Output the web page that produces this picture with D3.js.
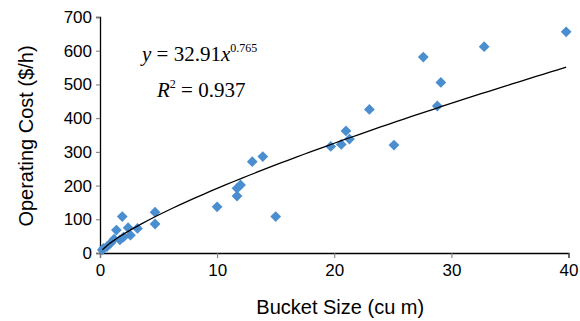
<!DOCTYPE html>
<html>
<head>
<meta charset="utf-8">
<script src="https://cdn.jsdelivr.net/npm/d3@7"></script>
<style>
  body { margin: 0; background: #fff; }
  svg { display: block; }
</style>
</head>
<body>
<svg id="svgx"></svg>
<script>
// bucket size (cu m) vs operating cost ($/h)
var bucketSize = [0.2, 0.3, 0.6, 0.9, 1.2, 1.7, 2.0, 2.6, 2.4, 3.2, 1.4, 1.9, 4.7, 4.7,
                  10.0, 11.7, 11.7, 12.0, 13.0, 13.9, 15.0,
                  19.7, 20.6, 21.3, 21.0, 23.0, 25.1, 27.6, 28.8, 29.1, 32.8, 39.8];
var opCost     = [9, 14, 19, 29, 41, 39, 47, 53, 75, 73, 68, 108, 121, 86,
                  137, 169, 192, 202, 271, 286, 108,
                  316, 322, 338, 362, 426, 320, 581, 436, 506, 612, 656];
var xTicks = [0, 10, 20, 30, 40];
var yTicks = [0, 100, 200, 300, 400, 500, 600, 700];
var coefA = 32.91, coefB = 0.765, rSq = 0.937;

var W = 580, H = 321;
var margin = {top: 17, right: 11.5, bottom: 68, left: 100};

var svg = d3.select('#svgx').attr('width', W).attr('height', H);

var x = d3.scaleLinear().domain([0, 40]).range([margin.left, W - margin.right]);
var y = d3.scaleLinear().domain([0, 700]).range([H - margin.bottom, margin.top]);

var tickFont = 'Liberation Sans, Arial, sans-serif';

// y axis
var yAxisG = svg.append('g')
  .attr('transform', `translate(${margin.left},0)`)
  .call(d3.axisLeft(y).tickValues(yTicks).tickSize(4).tickPadding(4))
yAxisG.select('.domain').attr('stroke', '#000').attr('stroke-width', 1.3)
yAxisG.selectAll('.tick line').attr('stroke', '#777')
yAxisG.selectAll('.tick text').style('font-family', tickFont).style('font-size', '17px').attr('fill', '#000')

// x axis
var xAxisG = svg.append('g')
  .attr('transform', `translate(0,${H - margin.bottom})`)
  .call(d3.axisBottom(x).tickValues(xTicks).tickSize(5).tickPadding(6))
xAxisG.select('.domain').attr('stroke', '#000').attr('stroke-width', 1.3)
xAxisG.selectAll('.tick line').attr('stroke', '#777')
xAxisG.selectAll('.tick text').style('font-family', tickFont).style('font-size', '17px').attr('fill', '#000')

// data points
var pts = bucketSize.map((d, i) => [d, opCost[i]]);
svg.append('g').selectAll('path.pt')
  .data(pts)
  .enter()
  .append('path')
  .attr('class', 'pt')
  .attr('d', d3.symbol().type(d3.symbolSquare).size(58))
  .attr('transform', d => `translate(${x(d[0])},${y(d[1])}) rotate(45)`)
  .attr('fill', '#4a8ed0');

// power trend line
var xmin = d3.min(bucketSize), xmax = d3.max(bucketSize);
var trend = d3.range(0, 61).map(i => {
  var xv = xmin + (xmax - xmin) * i / 60;
  return [xv, coefA * Math.pow(xv, coefB)];
});
svg.append('path')
  .datum(trend)
  .attr('d', d3.line().x(d => x(d[0])).y(d => y(d[1])))
  .attr('fill', 'none')
  .attr('stroke', '#000')
  .attr('stroke-width', 1.3);

// equation text
var serif = 'Liberation Serif, Times New Roman, serif';
var eq = svg.append('text')
  .attr('x', 142).attr('y', 61)
  .style('font-family', serif).style('font-size', '21px');
eq.append('tspan').style('font-style', 'italic').text('y');
eq.append('tspan').text(' = ' + coefA.toFixed(2));
eq.append('tspan').style('font-style', 'italic').text('x');
eq.append('tspan').attr('dy', -9).style('font-size', '12px').text(coefB.toFixed(3));

var r2 = svg.append('text')
  .attr('x', 157).attr('y', 97)
  .style('font-family', serif).style('font-size', '21px');
r2.append('tspan').style('font-style', 'italic').text('R');
r2.append('tspan').attr('dy', -9).style('font-size', '12px').text('2');
r2.append('tspan').attr('dy', 9).text(' = ' + rSq.toFixed(3));

// axis titles
svg.append('text')
  .attr('x', (margin.left + W - margin.right) / 2 + 6)
  .attr('y', 314)
  .attr('text-anchor', 'middle')
  .style('font-family', tickFont).style('font-size', '20px')
  .text('Bucket Size (cu m)');

svg.append('text')
  .attr('transform', 'translate(33,136) rotate(-90)')
  .attr('text-anchor', 'middle')
  .style('font-family', tickFont).style('font-size', '20px')
  .text('Operating Cost ($/h)');
</script>
</body>
</html>
